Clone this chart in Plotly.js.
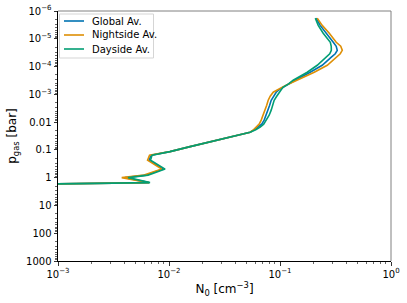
<!DOCTYPE html>
<html>
<head>
<meta charset="utf-8">
<script src="https://cdn.plot.ly/plotly-3.0.1.min.js"></script>
<style>html,body{margin:0;padding:0;background:#fff;}#chart{width:407px;height:303px;}</style>
</head>
<body>
<div id="chart"></div>
<script>
// ---- Data ----
const seriesNames = ["Global Av.", "Nightside Av.", "Dayside Av."];
const pressure = [1.70, 1.505, 0.995, 0.809, 0.492, 0.234, 0.1545, 0.1156, 0.0764, 0.0505, 0.0348, 0.0230, 0.0187, 0.0152, 0.01186, 8.5e-3, 5.63e-3, 3.7e-3, 2.46e-3, 1.63e-3, 1.17e-3, 8.4e-4, 6.8e-4, 5.5e-4, 4.3e-4, 3.1e-4, 1.6e-4, 9.0e-5, 4.6e-5, 3.46e-5, 2.6e-5, 1.86e-5, 1.34e-5, 6.3e-6, 3.3e-6, 1.8e-6];
const globalN = [7e-4, 6.61e-3, 4.02e-3, 6.22e-3, 8.85e-3, 6.61e-3, 6.90e-3, 1.02e-2, 1.55e-2, 2.35e-2, 3.56e-2, 5.38e-2, 0.0591, 6.36e-2, 0.0684, 7.20e-2, 0.0751, 7.83e-2, 0.0807, 8.33e-2, 0.0877, 9.24e-2, 0.0983, 0.107, 0.1186, 0.137, 0.187, 0.240, 0.290, 0.3145, 0.328, 0.321, 0.302, 0.261, 0.230, 0.212];
const nightsideN = [7e-4, 6.61e-3, 3.75e-3, 5.96e-3, 8.61e-3, 6.41e-3, 6.68e-3, 1.02e-2, 1.55e-2, 2.35e-2, 3.56e-2, 5.38e-2, 0.0579, 6.10e-2, 0.0649, 6.77e-2, 0.0706, 7.35e-2, 0.0759, 7.83e-2, 0.0816, 8.69e-2, 0.0943, 0.105, 0.1186, 0.143, 0.2035, 0.2665, 0.321, 0.349, 0.364, 0.3525, 0.321, 0.278, 0.240, 0.2165];
const daysideN = [7e-4, 6.75e-3, 4.28e-3, 6.48e-3, 9.22e-3, 6.82e-3, 7.04e-3, 1.02e-2, 1.55e-2, 2.35e-2, 3.56e-2, 5.38e-2, 0.0604, 6.63e-2, 0.0713, 7.51e-2, 0.0799, 8.33e-2, 0.0859, 8.86e-2, 0.0934, 9.83e-2, 0.1025, 0.107, 0.1186, 0.1315, 0.176, 0.2165, 0.261, 0.2806, 0.290, 0.2895, 0.284, 0.245, 0.221, 0.208];
const colors = ["#0173B2", "#DE8F05", "#029E73"];

const yTickVals = [1e-6, 1e-5, 1e-4, 1e-3, 0.01, 0.1, 1, 10, 100, 1000];
const yTickText = ["10<sup>\u22126</sup>", "10<sup>\u22125</sup>", "10<sup>\u22124</sup>", "10<sup>\u22123</sup>", "0.01", "0.1", "1", "10", "100", "1000"];
const xTickVals = [1e-3, 1e-2, 1e-1, 1];
const xTickText = ["10<sup>\u22123</sup>", "10<sup>\u22122</sup>", "10<sup>\u22121</sup>", "10<sup>0</sup>"];

// ---- minor tick positions ----
function minorTicks(lo, hi) {
  const v = [];
  for (let e = lo; e < hi; e++) for (let d = 2; d <= 9; d++) v.push(d * Math.pow(10, e));
  return v;
}

const FONT = "DejaVu Sans, sans-serif";
const L = 58, T = 11, W = 333, H = 250;
const fx = px => (px - L) / W;
const fy = py => 1 - (py - T) / H;

const allN = [globalN, nightsideN, daysideN];
const traces = allN.map((n, i) => ({
  x: n, y: pressure, type: "scatter", mode: "lines", name: seriesNames[i],
  line: {color: colors[i], width: 1.6}, showlegend: false, hoverinfo: "skip"
}));

const shapes = [
  {type: "line", xref: "paper", yref: "paper", x0: 0, x1: 1, y0: 1, y1: 1, line: {color: "#808080", width: 1}},
  {type: "line", xref: "paper", yref: "paper", x0: 1, x1: 1, y0: 0, y1: 1, line: {color: "#808080", width: 1}},
  {type: "rect", xref: "paper", yref: "paper", x0: fx(59.5), x1: fx(153.5), y0: fy(58), y1: fy(14),
   line: {color: "#d5d5d5", width: 1}, fillcolor: "rgba(255,255,255,0.8)", layer: "above"}
];
const annotations = [];
const rowY = [21, 35, 49];
seriesNames.forEach((nm, i) => {
  shapes.push({type: "line", xref: "paper", yref: "paper", x0: fx(64), x1: fx(84), y0: fy(rowY[i]), y1: fy(rowY[i]),
    line: {color: colors[i], width: 1.6}, layer: "above"});
  annotations.push({xref: "paper", yref: "paper", x: fx(90), y: fy(rowY[i]), xanchor: "left", yanchor: "middle",
    text: nm, showarrow: false, font: {family: FONT, size: 10, color: "#000"}});
});

const layout = {
  width: 407, height: 303,
  margin: {l: L, r: 407 - L - W, t: T, b: 303 - T - H},
  paper_bgcolor: "#fff", plot_bgcolor: "#fff",
  showlegend: false,
  font: {family: FONT, size: 10, color: "#000"},
  xaxis: {
    type: "log", range: [-3, 0], showgrid: false, zeroline: false,
    showline: true, linecolor: "#000", linewidth: 1,
    ticks: "outside", ticklen: 3.5, tickwidth: 0.8, tickcolor: "#000",
    tickmode: "array", tickvals: xTickVals, ticktext: xTickText,
    tickfont: {family: FONT, size: 10, color: "#000"},
    minor: {tickmode: "array", tickvals: minorTicks(-3, 0), ticks: "outside", ticklen: 2, tickwidth: 0.6, tickcolor: "#000", showgrid: false},
    title: {text: "N<sub>0</sub> [cm<sup>\u22123</sup>]", font: {family: FONT, size: 12, color: "#000"}, standoff: 6}
  },
  yaxis: {
    type: "log", range: [3, -6], showgrid: false, zeroline: false,
    showline: true, linecolor: "#000", linewidth: 1,
    ticks: "outside", ticklen: 3.5, tickwidth: 0.8, tickcolor: "#000",
    tickmode: "array", tickvals: yTickVals, ticktext: yTickText,
    tickfont: {family: FONT, size: 10, color: "#000"},
    minor: {tickmode: "array", tickvals: minorTicks(-6, 3), ticks: "outside", ticklen: 2, tickwidth: 0.6, tickcolor: "#000", showgrid: false},
    title: {text: "p<sub>gas</sub> [bar]", font: {family: FONT, size: 12, color: "#000"}, standoff: 6}
  },
  shapes: shapes,
  annotations: annotations
};

Plotly.newPlot("chart", traces, layout, {displayModeBar: false, staticPlot: true});
</script>
</body>
</html>
